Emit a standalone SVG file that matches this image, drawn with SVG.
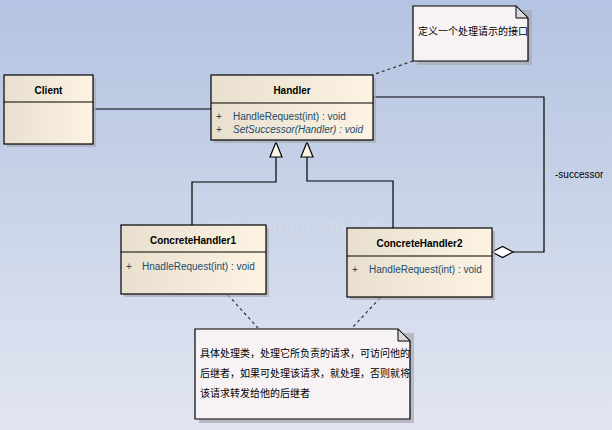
<svg xmlns="http://www.w3.org/2000/svg" width="612" height="430" viewBox="0 0 612 430">
<defs>
<linearGradient id="bg" x1="0" y1="0" x2="0" y2="1">
<stop offset="0" stop-color="#b3c3e1"/>
<stop offset="1" stop-color="#e2e6f1"/>
</linearGradient>
<linearGradient id="cls" x1="0" y1="0" x2="1" y2="0">
<stop offset="0" stop-color="#e8dfcf"/>
<stop offset="1" stop-color="#fcf3e3"/>
</linearGradient>
<style>
.box{fill:url(#cls);stroke:#000;stroke-width:1.2}
.shadow{fill:#a9a9b0;opacity:0.7}
.note{fill:#f7f3f5;stroke:#000;stroke-width:1.2}
.fold{fill:#d9d9dc;stroke:#000;stroke-width:1}
.title{font-family:"Liberation Sans","DejaVu Sans",sans-serif;font-size:10px;font-weight:bold;fill:#000;text-anchor:middle}
.meth{font-family:"Liberation Sans","DejaVu Sans",sans-serif;font-size:10px;fill:#1c4a68}
.cn{font-family:"Noto Sans CJK SC","DejaVu Sans",sans-serif;font-size:10px;fill:#000}
.lbl{font-family:"Liberation Sans","DejaVu Sans",sans-serif;font-size:10px;fill:#000}
.ln{fill:none;stroke:#000;stroke-width:1.2}
.dash{fill:none;stroke:#333;stroke-width:1.2;stroke-dasharray:3,3}
.wm{font-family:"Liberation Serif","DejaVu Serif",serif;font-size:22px;fill:#d8dce6;opacity:0.6}
</style>
</defs>
<rect width="612" height="430" fill="url(#bg)"/>

<g id="connectors">
<line class="ln" x1="93" y1="109" x2="211" y2="109"/>
<polyline class="ln" points="276,157 276,182 192,182 192,225"/>
<polyline class="ln" points="307,157 307,181 393,181 393,228"/>
<polygon points="276,142 270,157 282,157" fill="#fdf6e8" stroke="#000" stroke-width="1.2"/>
<polygon points="307,142 301,157 313,157" fill="#fdf6e8" stroke="#000" stroke-width="1.2"/>
<polyline class="ln" points="513,252 544,252 544,97 373,97"/>
<polygon points="492,252 502.5,246.5 513,252 502.5,257.5" fill="#fff" stroke="#000" stroke-width="1.2"/>
<text class="lbl" x="555" y="178">-successor</text>
<line class="dash" x1="413" y1="61" x2="375" y2="74"/>
<line class="dash" x1="228" y1="295" x2="258" y2="328"/>
<line class="dash" x1="380" y1="298" x2="352" y2="328"/>
</g>

<text class="wm" x="208" y="233">http://blog.csdn.net/</text>

<g id="client">
<rect class="shadow" x="7" y="78" width="89" height="69"/>
<rect class="box" x="4" y="75" width="89" height="69"/>
<line class="ln" x1="4" y1="102" x2="93" y2="102"/>
<text class="title" x="48.5" y="94">Client</text>
</g>

<g id="handler">
<rect class="shadow" x="214" y="78" width="162" height="65"/>
<rect class="box" x="211" y="75" width="162" height="65"/>
<line class="ln" x1="211" y1="103" x2="373" y2="103"/>
<text class="title" x="292" y="94">Handler</text>
<text class="meth" x="216" y="120">+</text>
<text class="meth" x="233" y="120">HandleRequest(int) : void</text>
<text class="meth" x="216" y="133">+</text>
<text class="meth" x="233" y="133" font-style="italic">SetSuccessor(Handler) : void</text>
</g>

<g id="note1">
<polygon class="shadow" points="417,10 532,10 532,65 417,65"/>
<polygon class="note" points="413,6 516,6 528,18 528,61 413,61"/>
<polygon class="fold" points="516,6 516,18 528,18"/>
<text class="cn" x="418" y="35">定义一个处理请示的接口</text>
</g>

<g id="concrete1">
<rect class="shadow" x="124" y="228" width="145" height="69"/>
<rect class="box" x="121" y="225" width="145" height="69"/>
<line class="ln" x1="121" y1="252" x2="266" y2="252"/>
<text class="title" x="193" y="244">ConcreteHandler1</text>
<text class="meth" x="126" y="270">+</text>
<text class="meth" x="142" y="270">HnadleRequest(int) : void</text>
</g>

<g id="concrete2">
<rect class="shadow" x="350" y="231" width="145" height="69"/>
<rect class="box" x="347" y="228" width="145" height="69"/>
<line class="ln" x1="347" y1="256" x2="492" y2="256"/>
<text class="title" x="419.5" y="247">ConcreteHandler2</text>
<text class="meth" x="352" y="273">+</text>
<text class="meth" x="369" y="273">HandleRequest(int) : void</text>
</g>

<g id="note2">
<polygon class="shadow" points="199,333 414,333 414,423 199,423"/>
<polygon class="note" points="195,329 398,329 410,341 410,419 195,419"/>
<polygon class="fold" points="398,329 398,341 410,341"/>
<text class="cn" x="200" y="357">具体处理类，处理它所负责的请求，可访问他的</text>
<text class="cn" x="200" y="377">后继者，如果可处理该请求，就处理，否则就将</text>
<text class="cn" x="200" y="397">该请求转发给他的后继者</text>
</g>
</svg>
